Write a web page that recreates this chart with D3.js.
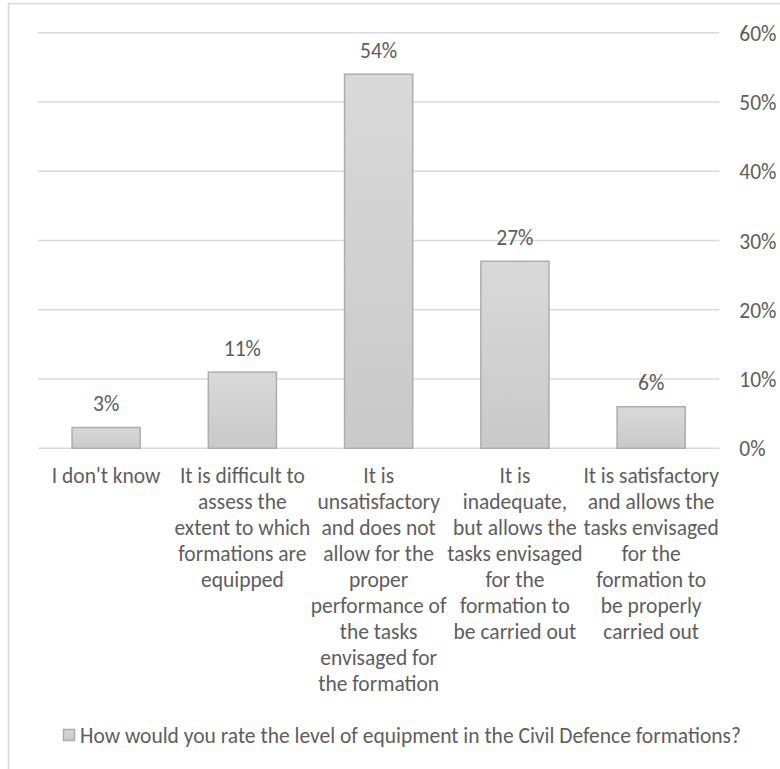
<!DOCTYPE html>
<html>
<head>
<meta charset="utf-8">
<script src="https://cdn.jsdelivr.net/npm/d3@7"></script>
<style>
  html, body { margin: 0; padding: 0; background: #fff; }
  svg { display: block; }
  text { font-family: Carlito, Calibri, Lato, "Open Sans", sans-serif; fill: #5e5e5e; }
</style>
</head>
<body>
<svg id="chart" width="780" height="769"></svg>
<script>
// Survey answers (share of respondents, %)
const categories = [
  "I don't know",
  "It is difficult to assess the extent to which formations are equipped",
  "It is unsatisfactory and does not allow for the proper performance of the tasks envisaged for the formation",
  "It is inadequate, but allows the tasks envisaged for the formation to be carried out",
  "It is satisfactory and allows the tasks envisaged for the formation to be properly carried out"
];
const categoryLines = [
  ["I don't know"],
  ["It is difficult to", "assess the", "extent to which", "formations are", "equipped"],
  ["It is", "unsatisfactory", "and does not", "allow for the", "proper", "performance of", "the tasks", "envisaged for", "the formation"],
  ["It is", "inadequate,", "but allows the", "tasks envisaged", "for the", "formation to", "be carried out"],
  ["It is satisfactory", "and allows the", "tasks envisaged", "for the", "formation to", "be properly", "carried out"]
];
const values = [3, 11, 54, 27, 6];
const tickValues = [0, 10, 20, 30, 40, 50, 60];
const seriesName = "How would you rate the level of equipment in the Civil Defence formations?";

const svg = d3.select("#chart");
const fontSize = 21.5;

// outer chart frame
svg.append("rect")
  .attr("x", 8.5).attr("y", 3.5)
  .attr("width", 800).attr("height", 800)
  .attr("fill", "none").attr("stroke", "#d9d9d9").attr("stroke-width", 1.5);

const plotLeft = 38, plotRight = 719.3, plotTop = 32.7, plotBottom = 448.3;

const x = d3.scaleBand()
  .domain(categories)
  .range([plotLeft, plotRight])
  .paddingInner(0.5)
  .paddingOuter(0.25);

const y = d3.scaleLinear()
  .domain([0, 60])
  .range([plotBottom, plotTop]);

const defs = svg.append("defs");
const grad = defs.append("linearGradient")
  .attr("id", "barFill").attr("x1", 0).attr("y1", 0).attr("x2", 0).attr("y2", 1);
grad.append("stop").attr("offset", "0%").attr("stop-color", "#d9d9d9");
grad.append("stop").attr("offset", "100%").attr("stop-color", "#c9c9c9");

// gridlines
svg.append("g")
  .selectAll("line")
  .data(tickValues)
  .join("line")
  .attr("x1", plotLeft).attr("x2", plotRight)
  .attr("y1", d => y(d)).attr("y2", d => y(d))
  .attr("stroke", "#d9d9d9").attr("stroke-width", 1.5);

// right value axis labels
const yAxis = d3.axisRight(y)
  .tickValues(tickValues)
  .tickSize(0)
  .tickPadding(0)
  .tickFormat(d => d + "%");
const yAxisG = svg.append("g")
  .attr("transform", `translate(${plotRight + 20},0)`)
  .call(yAxis);
yAxisG.select(".domain").remove();
yAxisG.selectAll("text")
  .attr("x", 0)
  .attr("dy", "0.35em")
  .style("font-size", fontSize + "px")
  .style("font-family", null)
  .attr("fill", "#5e5e5e");

// bars
svg.append("g")
  .selectAll("rect")
  .data(values)
  .join("rect")
  .attr("x", (d, i) => x(categories[i]))
  .attr("y", d => y(d))
  .attr("width", x.bandwidth())
  .attr("height", d => y(0) - y(d))
  .attr("fill", "url(#barFill)")
  .attr("stroke", "#adadad")
  .attr("stroke-width", 1.5);

// value labels
svg.append("g")
  .selectAll("text")
  .data(values)
  .join("text")
  .attr("x", (d, i) => x(categories[i]) + x.bandwidth() / 2)
  .attr("y", d => y(d) - 24)
  .attr("dy", "0.35em")
  .attr("text-anchor", "middle")
  .style("font-size", fontSize + "px")
  .text(d => d + "%");

// category labels
const catG = svg.append("g");
categories.forEach((c, i) => {
  const t = catG.append("text")
    .attr("x", x(c) + x.bandwidth() / 2)
    .attr("y", 475.7)
    .attr("text-anchor", "middle")
    .style("font-size", fontSize + "px");
  t.selectAll("tspan")
    .data(categoryLines[i])
    .join("tspan")
    .attr("x", x(c) + x.bandwidth() / 2)
    .attr("y", (d, k) => 475.7 + k * 26)
    .attr("dy", "0.35em")
    .text(d => d);
});

// legend
const legend = svg.append("g");
legend.append("rect")
  .attr("x", 63.5).attr("y", 729.5)
  .attr("width", 11).attr("height", 11)
  .attr("fill", "url(#barFill)")
  .attr("stroke", "#adadad").attr("stroke-width", 1.5);
legend.append("text")
  .attr("x", 80).attr("y", 735)
  .attr("dy", "0.35em")
  .style("font-size", fontSize + "px")
  .text(seriesName);
</script>
</body>
</html>
